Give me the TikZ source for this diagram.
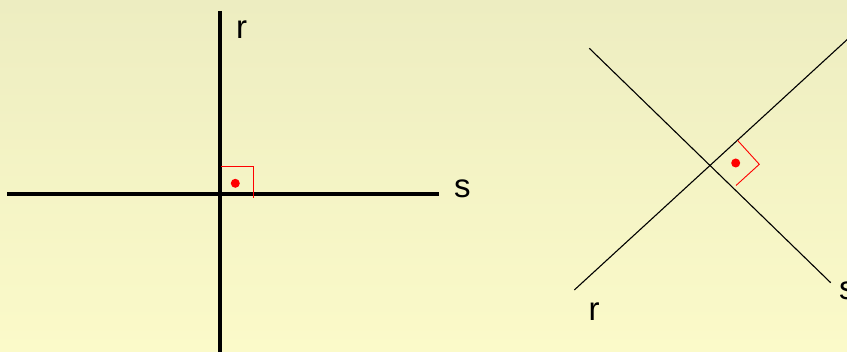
\documentclass[tikz,border=0pt]{standalone}
\usepackage{fontspec}
\setmainfont{Liberation Sans}
\definecolor{bgtop}{RGB}{237,237,193}
\definecolor{bgbot}{RGB}{251,250,201}
\definecolor{markred}{RGB}{255,0,0}
\begin{document}
\begin{tikzpicture}[x=1pt,y=-1pt,
  thickline/.style={line width=4pt,black},
  thinline/.style={line width=1.1pt,black},
  anglemark/.style={line width=0.9pt,markred},
  anglepoint/.style={fill=markred,draw=none},
  lbl/.style={inner sep=0pt,anchor=base west,font=\fontsize{33}{40}\selectfont}]
\useasboundingbox (0,0) rectangle (847,352);
\shade[top color=bgtop,bottom color=bgbot] (0,0) rectangle (847,352);
% left figure
\coordinate (rTop) at (219.5,11);
\coordinate (rBot) at (219.5,360);
\coordinate (sLeft) at (7.3,194.3);
\coordinate (sRight) at (439.3,194.3);
\draw[thickline] (rTop) -- (rBot);
\draw[thickline] (sLeft) -- (sRight);
\coordinate (m1a) at (221,166.5);
\coordinate (m1b) at (253,166.5);
\coordinate (m1c) at (253,198);
\draw[anglemark] (m1a) -- (m1b) -- (m1c);
\fill[anglepoint] (235.3,183.3) circle (4.5);
\node[lbl] (labR1) at (236,38.3) {r};
\node[lbl] (labS1) at (454,198) {s};
% right figure
\coordinate (r2a) at (574.3,290);
\coordinate (r2b) at (860,27.8);
\coordinate (s2a) at (589.3,48.3);
\coordinate (s2b) at (830.7,282.7);
\draw[thinline] (r2a) -- (r2b);
\draw[thinline] (s2a) -- (s2b);
\coordinate (m2a) at (737.7,140.5);
\coordinate (m2b) at (759.3,164.3);
\coordinate (m2c) at (736,185.5);
\draw[anglemark] (m2a) -- (m2b) -- (m2c);
\fill[anglepoint] (735.7,163) circle (4.5);
\node[lbl] (labR2) at (588.5,320.5) {r};
\node[lbl] (labS2) at (839,299.3) {s};
\end{tikzpicture}
\end{document}
